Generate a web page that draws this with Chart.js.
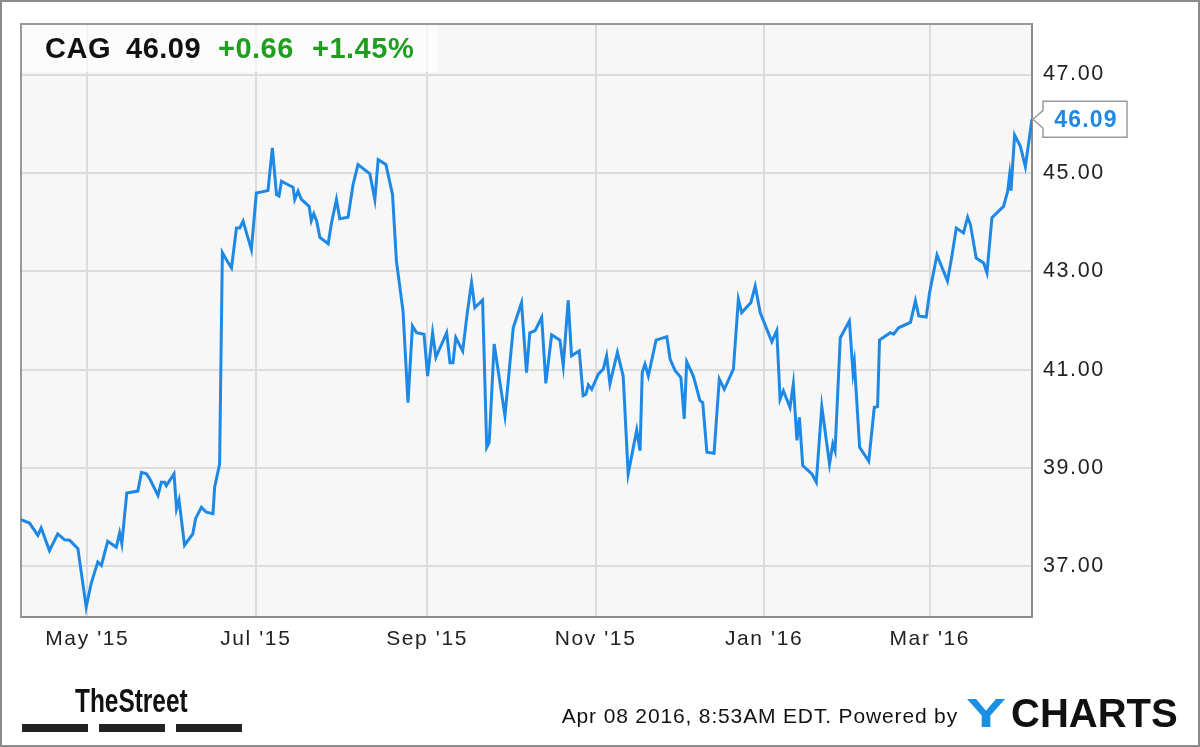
<!DOCTYPE html>
<html>
<head>
<meta charset="utf-8">
<script src="https://cdn.jsdelivr.net/npm/chart.js@4.4.1/dist/chart.umd.min.js"></script>
<style>
  html, body { margin: 0; padding: 0; background: #fff; }
  canvas { display: block; }
</style>
</head>
<body>
<canvas id="chart" width="1200" height="747"></canvas>
<script>
// CAG daily close, Apr 7 2015 .. Apr 7 2016 (x = days since Apr 7 2015)
const days = [
  0, 3.1, 6.1, 7.3, 10.3, 13.3, 15.8, 17.6, 20.6, 23.6, 25.4, 27.8, 29.1, 31.4, 34.5, 35.7, 36.5,
  38.3, 42.3, 43.6, 45.4, 46.6, 49.6, 50.8, 52.0, 52.6, 55.4, 56.3, 57.2, 59.2, 62.2, 63.2, 65.3,
  67.1, 69.5, 70.1, 71.9, 72.9, 74.3, 76.2, 78.0, 79.2, 80.4, 83.4, 85.2, 89.4, 91.0, 92.5, 93.4,
  94.3, 96.7, 98.5, 99.1, 100.3, 101.5, 104.3, 105.1, 106.0, 107.0, 108.2, 111.2, 112.4, 114.2,
  115.4, 118.4, 120.2, 122.0, 126.3, 128.1, 129.3, 132.1, 134.5, 135.9, 138.3, 140.1, 141.7, 143.2,
  145.9, 147.2, 149.0, 150.2, 154.1, 155.3, 156.4, 157.4, 159.9, 161.5, 163.1, 164.3, 167.1, 168.6,
  169.5, 171.3, 175.2, 178.2, 181.2, 183.0, 184.2, 186.1, 188.5, 190.0, 192.1, 195.1, 196.3, 198.1,
  199.3, 202.1, 203.5, 204.5, 205.4, 206.6, 209.0, 210.8, 212.0, 213.2, 215.9, 218.0, 219.8, 222.9,
  224.1, 224.9, 225.9, 227.1, 229.9, 233.8, 235.0, 236.8, 238.9, 240.1, 241.0, 243.4, 245.8, 246.8,
  248.3, 250.9, 252.8, 254.6, 257.9, 259.7, 260.9, 264.2, 265.8, 267.6, 271.8, 273.6, 274.8, 276.0,
  278.4, 279.6, 280.9, 281.8, 283.0, 286.3, 287.9, 289.9, 292.7, 293.9, 294.7, 296.6, 299.9, 301.2,
  301.7, 303.6, 306.9, 308.9, 310.1, 310.8, 314.7, 315.9, 317.7, 322.0, 323.8, 325.0, 327.7, 328.9,
  331.6, 335.4, 337.0, 338.6, 341.2, 342.7, 343.7, 345.8, 348.5, 349.7, 351.5, 355.7, 357.2, 357.9,
  358.4, 359.7, 361.8, 363.6, 366
];
const prices = [
  37.95, 37.88, 37.63, 37.78, 37.32, 37.66, 37.54, 37.53, 37.36, 36.17, 36.65, 37.09, 37.02, 37.51, 37.39, 37.68, 37.46,
  38.49, 38.53, 38.91, 38.88, 38.78, 38.44, 38.71, 38.71, 38.64, 38.88, 38.17, 38.35, 37.43, 37.66, 37.97, 38.20,
  38.10, 38.07, 38.61, 39.08, 43.38, 43.24, 43.07, 43.88, 43.88, 44.02, 43.44, 44.59, 44.64, 45.51, 44.56, 44.53,
  44.83, 44.76, 44.71, 44.46, 44.63, 44.46, 44.32, 44.03, 44.17, 44.03, 43.69, 43.56, 43.98, 44.46,
  44.07, 44.10, 44.76, 45.17, 44.98, 44.46, 45.27, 45.17, 44.56, 43.21, 42.19, 40.33, 41.89, 41.75,
  41.72, 40.87, 41.75, 41.25, 41.75, 41.14, 41.14, 41.65, 41.38, 42.13, 42.77, 42.26, 42.41, 39.42,
  39.52, 41.52, 40.06, 41.85, 42.36, 40.94, 41.75, 41.79, 42.06, 40.72, 41.71, 41.60, 41.08, 42.41,
  41.28, 41.38, 40.47, 40.50, 40.69, 40.60, 40.91, 41.01, 41.28, 40.71, 41.35, 40.87, 38.88, 39.77,
  39.35, 40.94, 41.11, 40.87, 41.60, 41.67, 41.21, 40.98, 40.84, 40.00, 41.16, 40.87, 40.37, 40.33,
  39.32, 39.30, 40.81, 40.60, 41.01, 42.43, 42.16, 42.36, 42.70, 42.16, 41.57, 41.79, 40.40, 40.57,
  40.23, 40.71, 39.56, 40.03, 39.05, 38.88, 38.71, 40.25, 39.08, 39.49, 39.35, 41.65, 41.99, 40.94,
  41.14, 39.42, 39.14, 40.23, 40.25, 41.60, 41.75, 41.72, 41.85, 41.96, 42.40, 42.09, 42.07, 42.56,
  43.33, 42.80, 43.31, 43.88, 43.78, 44.10, 43.95, 43.27, 43.17, 42.97, 44.09, 44.32, 44.63, 44.96,
  44.64, 45.77, 45.54, 45.13, 46.09
];
const monthTickDays = [24, 85, 147, 208, 269, 329];
const monthLabels = ["May '15", "Jul '15", "Sep '15", "Nov '15", "Jan '16", "Mar '16"];
const priceTicks = [37, 39, 41, 43, 45, 47];

const ticker = "CAG";
const lastPrice = "46.09";
const change = "+0.66";
const changePct = "+1.45%";
const stamp = "Apr 08 2016, 8:53AM EDT. Powered by";

const LINE_BLUE = "#1e88e5";
const GREEN = "#1f9e1f";

// text helper, canvas letterSpacing keeps the wide look of the original
function txt(ctx, s, x, y, font, color, align, spacing) {
  ctx.save();
  ctx.font = font;
  ctx.fillStyle = color;
  ctx.textAlign = align || "left";
  ctx.textBaseline = "alphabetic";
  ctx.letterSpacing = spacing || "0px";
  ctx.fillText(s, x, y);
  ctx.restore();
}

const framePlugin = {
  id: "frame",
  beforeDraw(chart) {
    const { ctx, chartArea: a } = chart;
    ctx.save();
    ctx.fillStyle = "#fff";
    ctx.fillRect(0, 0, chart.width, chart.height);
    ctx.fillStyle = "#f7f7f7";
    ctx.fillRect(a.left, a.top, a.right - a.left, a.bottom - a.top);
    ctx.restore();
    ctx.letterSpacing = "1.6px"; // tick labels
  },
  beforeDatasetsDraw(chart) {
    const { ctx, chartArea: a } = chart;
    ctx.save();
    ctx.letterSpacing = "0px";
    // quote box in the top left corner
    ctx.fillStyle = "rgba(255,255,255,0.65)";
    ctx.fillRect(a.left, a.top, 437 - a.left, 48);
    // left and top edges of the plot
    ctx.strokeStyle = "#999";
    ctx.lineWidth = 2;
    ctx.beginPath();
    ctx.moveTo(a.left, a.bottom);
    ctx.lineTo(a.left, a.top);
    ctx.lineTo(a.right, a.top);
    ctx.stroke();
    ctx.restore();
  },
  afterDraw(chart) {
    const { ctx, scales } = chart;
    ctx.save();
    ctx.letterSpacing = "0px";

    // header quote
    const hf = "bold 29px 'Liberation Sans', Arial, sans-serif";
    txt(ctx, ticker, 45, 58, hf, "#111", "left", "0.5px");
    txt(ctx, lastPrice, 126, 58, hf, "#111", "left", "0.5px");
    txt(ctx, change, 218, 58, hf, GREEN, "left", "0.5px");
    txt(ctx, changePct, 312, 58, hf, GREEN, "left", "0.5px");

    // last value tag on the right axis
    const px = scales.x.getPixelForValue(days[days.length - 1]);
    const py = scales.y.getPixelForValue(prices[prices.length - 1]);
    const bx = 1043, bw = 84, bh = 36, by = py - bh / 2;
    ctx.fillStyle = "#fff";
    ctx.strokeStyle = "#9a9a9a";
    ctx.lineWidth = 1.5;
    ctx.beginPath();
    ctx.moveTo(px + 1, py);
    ctx.lineTo(bx, py - 9);
    ctx.lineTo(bx, by);
    ctx.lineTo(bx + bw, by);
    ctx.lineTo(bx + bw, by + bh);
    ctx.lineTo(bx, by + bh);
    ctx.lineTo(bx, py + 9);
    ctx.closePath();
    ctx.fill();
    ctx.stroke();
    txt(ctx, lastPrice, bx + bw / 2 + 1, py + 8, "bold 23px 'Liberation Sans', Arial, sans-serif", LINE_BLUE, "center", "1.2px");

    // footer: TheStreet logo
    ctx.save();
    ctx.translate(75, 712);
    ctx.scale(0.74, 1);
    txt(ctx, "TheStreet", 0, 0, "bold 33px 'Liberation Sans', Arial, sans-serif", "#111", "left", "0px");
    ctx.restore();
    ctx.fillStyle = "#222";
    ctx.fillRect(22, 724, 66, 8);
    ctx.fillRect(99, 724, 66, 8);
    ctx.fillRect(176, 724, 66, 8);

    // footer: timestamp and YCHARTS
    txt(ctx, stamp, 958, 723, "21px 'Liberation Sans', Arial, sans-serif", "#111", "right", "0.85px");
    const yf = "bold 40px 'Liberation Sans', Arial, sans-serif";
    ctx.save();
    ctx.translate(966, 727);
    ctx.scale(1.5, 1);
    txt(ctx, "Y", 0, 0, yf, "#1a8fe6", "left", "0px");
    ctx.restore();
    txt(ctx, "CHARTS", 1011, 727, yf, "#111", "left", "0px");

    // outer frame
    ctx.strokeStyle = "#8c8c8c";
    ctx.lineWidth = 2;
    ctx.strokeRect(1, 1, chart.width - 2, chart.height - 2);
    ctx.restore();
  }
};

Chart.defaults.font.family = "'Liberation Sans', Arial, sans-serif";

new Chart(document.getElementById("chart"), {
  type: "line",
  data: {
    datasets: [{
      data: days.map((d, i) => ({ x: d, y: prices[i] })),
      borderColor: LINE_BLUE,
      borderWidth: 3,
      pointRadius: 0,
      tension: 0,
      fill: false
    }]
  },
  options: {
    responsive: false,
    devicePixelRatio: 1,
    animation: false,
    layout: { padding: { left: 21, top: 22, right: 0, bottom: 0 } },
    plugins: { legend: { display: false }, tooltip: { enabled: false } },
    scales: {
      x: {
        type: "linear",
        min: 0,
        max: 366,
        afterBuildTicks: (s) => { s.ticks = monthTickDays.map(v => ({ value: v })); },
        afterFit: (s) => { s.height = 130; },
        grid: { color: "#dcdcdc", lineWidth: 2, drawTicks: false },
        border: { display: true, color: "#8c8c8c", width: 2 },
        ticks: {
          autoSkip: false,
          maxRotation: 0,
          padding: 10,
          color: "#222",
          font: { size: 21 },
          callback: (v) => monthLabels[monthTickDays.indexOf(v)]
        }
      },
      y: {
        position: "right",
        min: 35.97,
        max: 48.03,
        afterBuildTicks: (s) => { s.ticks = priceTicks.map(v => ({ value: v })); },
        afterFit: (s) => { s.width = 168; },
        grid: { color: "#dcdcdc", lineWidth: 2, drawTicks: false },
        border: { display: true, color: "#8c8c8c", width: 2 },
        ticks: {
          padding: 11,
          color: "#222",
          font: { size: 21.5 },
          callback: (v) => v.toFixed(2)
        }
      }
    }
  },
  plugins: [framePlugin]
});
</script>
</body>
</html>
